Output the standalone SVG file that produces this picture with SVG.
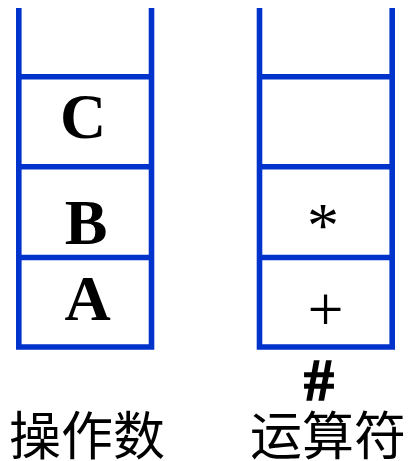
<svg xmlns="http://www.w3.org/2000/svg" width="409" height="461" viewBox="0 0 409 461">
<style>
.st{fill:none;stroke:#0033CC;stroke-width:5.6}
.big{font-family:"Liberation Serif","Times New Roman",serif;font-weight:bold;font-size:64px;fill:#000;text-anchor:middle}
.op{font-family:"Liberation Serif","Times New Roman",serif;font-size:64px;fill:#000;text-anchor:middle}
.hash{font-family:"Liberation Serif","Times New Roman",serif;font-weight:bold;font-size:60px;fill:#000;stroke:#000;stroke-width:1.5;text-anchor:middle}
.cn{font-family:"Noto Sans CJK SC",sans-serif;font-size:52px;fill:#000}
</style>
<rect width="409" height="461" fill="#fff"/>
<g id="operand-stack">
<path class="st" d="M18.8 8V347H151.5V8"/>
<path class="st" d="M18.8 76.7H151.5M18.8 166.7H151.5M18.8 257.5H151.5"/>
<text class="big" x="83" y="138">C</text>
<text class="big" x="86" y="244">B</text>
<text class="big" x="87.5" y="320">A</text>
</g>
<g id="operator-stack">
<path class="st" d="M259.5 8V347H392.2V8"/>
<path class="st" d="M259.5 76.7H392.2M259.5 166.7H392.2M259.5 257.5H392.2"/>
<text class="op" x="323" y="247">*</text>
<text class="op" x="325.5" y="331">+</text>
<text class="hash" x="319" y="400">#</text>
</g>
<g id="labels">
<text class="cn" x="9" y="455">操作数</text>
<text class="cn" x="250" y="455">运算符</text>
</g>
<g id="connectors"/>
</svg>
